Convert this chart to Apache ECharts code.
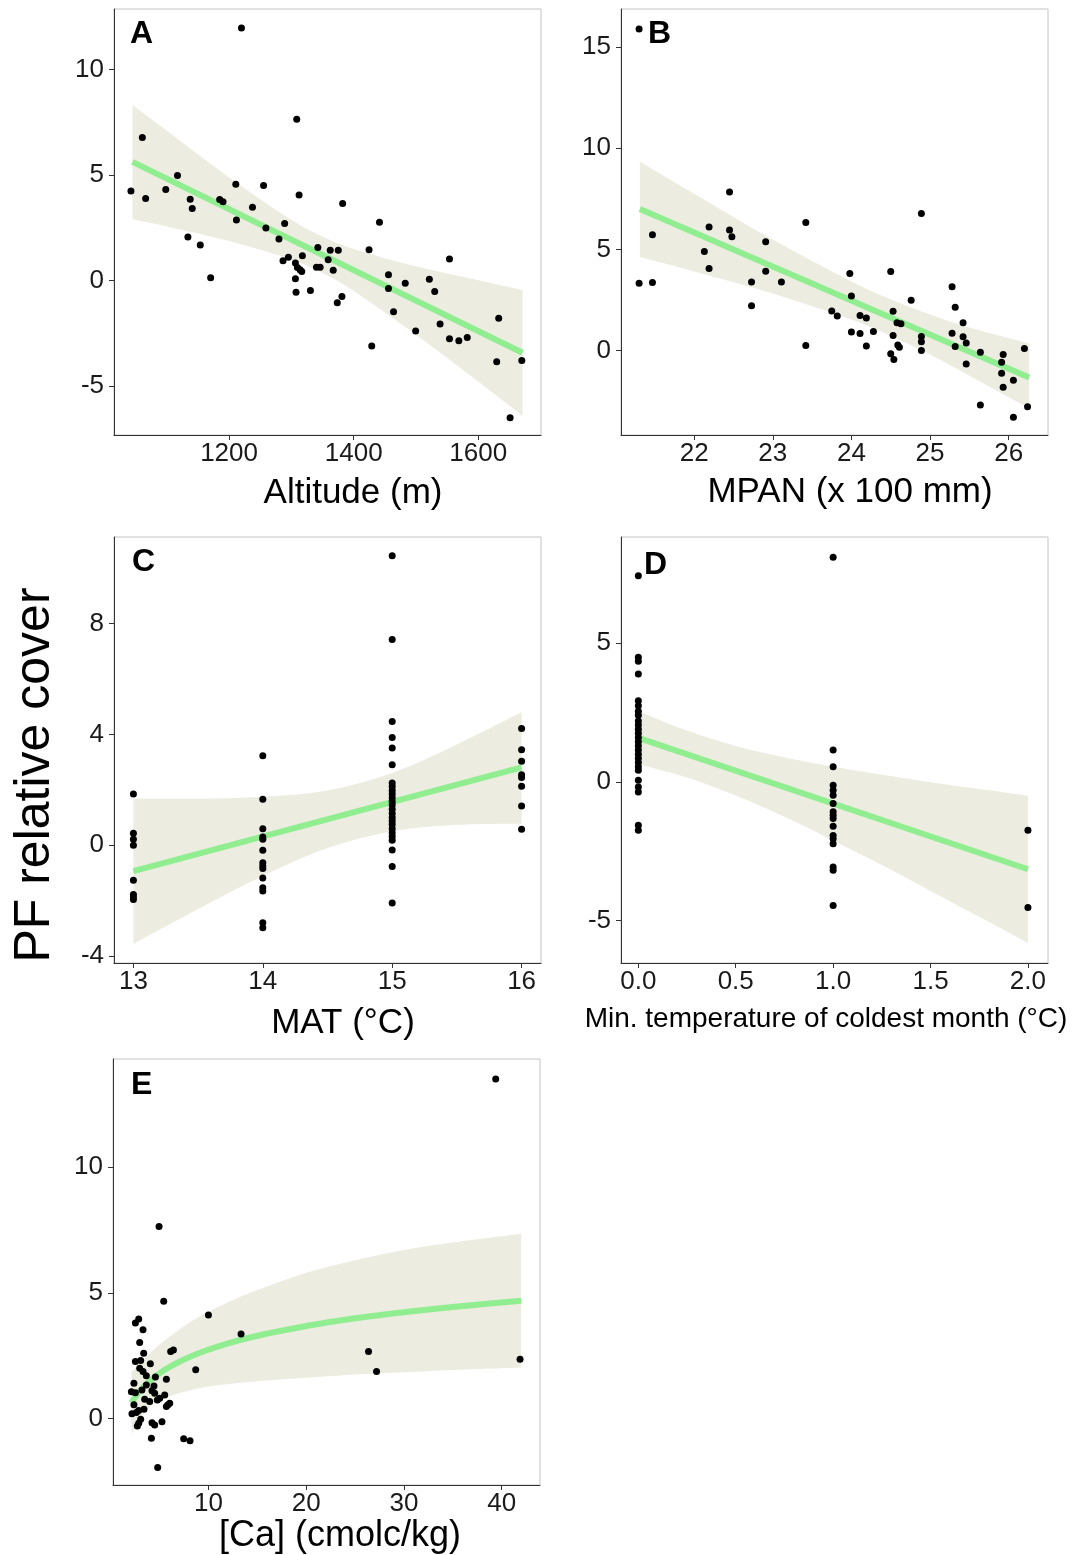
<!DOCTYPE html>
<html><head><meta charset="utf-8">
<script src="https://cdn.jsdelivr.net/npm/echarts@6/dist/echarts.min.js"></script>
<style>html,body{margin:0;padding:0;background:#fff}#c{width:1081px;height:1555px}</style>
</head><body><div id="c"></div>
<script>
// ---------- Panel A: Altitude ----------
const altX = [1042.5,1060.8,1066.1,1098.4,1117.2,1133.9,1137.6,1140.9,1153.8,1170.4,1184.9,1190.3,1210.8,1211.8,1219.9,1237.6,1255.4,1259.1,1280.1,1286.6,1289.2,1295.2,1306.5,1306.5,1307.5,1308.6,1309.7,1312.4,1314.0,1316.7,1317.7,1330.6,1340.3,1342.5,1346.2,1359.1,1362.4,1367.2,1373.7,1375.3,1381.2,1382.3,1424.7,1429.0,1441.4,1455.9,1455.9,1464.0,1482.8,1499.5,1521.5,1530.1,1538.7,1553.8,1553.8,1568.8,1582.3,1629.6,1632.8,1651.1,1669.9];
const altY = [4.24,6.78,3.89,4.32,4.98,2.06,3.86,3.41,1.68,0.13,3.84,3.73,4.56,2.87,11.98,3.48,4.51,2.49,1.97,0.94,2.70,1.10,0.83,0.08,-0.56,7.65,0.62,4.06,0.51,0.43,1.17,-0.48,0.63,1.56,0.63,0.98,1.44,0.49,-1.05,1.44,-0.76,3.65,1.46,-3.11,2.76,0.27,-0.38,-1.48,-0.13,-2.40,0.06,-0.52,-2.06,-2.76,1.02,-2.86,-2.71,-3.86,-1.79,-6.51,-3.79];
const altFitX = [1045, 1671];
const altFitY = [5.63, -3.43];
const altBandX = [1045,1100,1200,1300,1350,1400,1500,1600,1671];
const altBandUp = [8.32,7.10,4.89,2.88,2.09,1.50,0.67,0.01,-0.46];
const altBandLo = [2.90,2.56,1.87,1.00,0.35,-0.50,-2.57,-4.79,-6.42];
const altTicksX = [1200,1400,1600];
const altTicksY = [-5,0,5,10];

// ---------- Panel B: MPAN ----------
const mpanX = [21.30,21.30,21.47,21.47,22.13,22.19,22.19,22.45,22.45,22.48,22.73,22.73,22.91,22.91,23.11,23.42,23.42,23.75,23.82,23.98,24.00,24.00,24.11,24.11,24.19,24.19,24.28,24.50,24.50,24.53,24.53,24.54,24.58,24.59,24.61,24.63,24.76,24.89,24.89,24.89,24.89,25.28,25.28,25.32,25.32,25.42,25.42,25.46,25.46,25.64,25.64,25.91,25.91,25.93,25.93,26.06,26.06,26.20,26.24];
const mpanY = [15.88,3.33,5.72,3.36,4.89,6.10,4.05,7.83,5.95,5.62,3.39,2.21,5.37,3.92,3.39,6.33,0.25,1.96,1.71,3.81,2.70,0.92,1.73,0.84,1.61,0.23,0.94,3.90,-0.16,1.94,0.74,-0.44,1.37,0.28,0.16,1.33,2.49,6.77,0.69,0.44,0.00,3.15,0.86,2.14,0.20,1.37,0.68,0.38,-0.66,-0.08,-2.69,-0.58,-1.12,-0.20,-1.81,-1.47,-3.29,0.10,-2.77];
const mpanFitX = [21.31, 26.26];
const mpanFitY = [6.99, -1.33];
const mpanBandX = [21.31,22,23,24,24.5,25,25.5,26.26];
const mpanBandUp = [9.33,7.75,5.48,3.41,2.53,1.78,1.14,0.35];
const mpanBandLo = [4.62,3.91,2.82,1.53,0.73,-0.20,-1.24,-2.85];
const mpanTicksX = [22,23,24,25,26];
const mpanTicksY = [0,5,10,15];

// ---------- Panel C: MAT ----------
const matX = [13,13,13,13,13,13,13,13,
  14,14,14,14,14,14,14,14,14,14,14,14,14,14,
  15,15,15,15,15,15,15,15,15,15,15,15,15,15,15,15,15,15,15,15,15,15,15,15,15,
  16,16,16,16,16,16,16,16];
const matY = [1.85,0.43,0.22,0.00,-1.26,-1.78,-1.87,-1.96,
  3.23,1.66,0.60,0.30,0.22,-0.18,-0.63,-0.75,-0.84,-1.18,-1.53,-1.65,-2.80,-2.98,
  10.45,7.43,4.47,3.89,3.51,2.91,2.25,2.12,1.98,1.85,1.72,1.58,1.45,1.30,1.15,1.00,0.88,0.75,0.60,0.45,0.32,0.18,-0.17,-0.77,-2.08,
  4.22,3.45,3.03,2.55,2.45,2.13,1.42,0.58];
const matFitX = [13, 16];
const matFitY = [-0.93, 2.81];
const matBandX = [13,13.5,14,14.5,15,15.5,16];
const matBandUp = [1.69,1.68,1.75,1.98,2.61,3.64,4.80];
const matBandLo = [-3.56,-2.30,-1.11,-0.10,0.51,0.74,0.78];
const matTicksX = [13,14,15,16];
const matTicksY = [-4,0,4,8];

// ---------- Panel D: Min. temperature of coldest month ----------
const tminX = [0,0,0,0,0,0,0,0,0,0,0,0,0,0,0,0,0,0,0,0,0,0,0,0,0,0,
  1,1,1,1,1,1,1,1,1,1,1,1,1,1,1,1,1,
  2,2];
const tminY = [7.43,4.49,4.35,3.89,2.93,2.75,2.55,2.40,2.20,2.05,1.90,1.75,1.60,1.45,1.30,1.15,1.00,0.85,0.70,0.55,0.42,0.06,-0.18,-0.36,-1.56,-1.74,
  8.10,1.15,0.55,-0.12,-0.30,-0.48,-0.78,-1.08,-1.20,-1.32,-1.60,-1.93,-2.05,-2.23,-3.07,-3.19,-4.46,
  -1.74,-4.53];
const tminFitX = [0, 2];
const tminFitY = [1.59, -3.15];
const tminBandX = [0,0.25,0.5,0.75,1,1.25,1.5,1.75,2];
const tminBandUp = [2.55,1.85,1.29,0.88,0.55,0.26,-0.01,-0.26,-0.50];
const tminBandLo = [0.64,0.16,-0.49,-1.26,-2.11,-3.00,-3.93,-4.86,-5.80];
const tminTicksX = [0,0.5,1,1.5,2];
const tminTicksY = [-5,0,5];

// ---------- Panel E: [Ca] ----------
const caX = [2.87,2.53,3.31,2.97,3.38,6.14,6.42,2.53,3.07,4.06,2.97,3.31,3.65,4.58,5.70,2.38,3.65,4.43,2.12,2.53,3.20,4.23,4.50,5.53,3.48,3.99,4.78,5.02,2.38,5.86,6.04,5.70,2.87,3.41,2.18,2.63,3.07,2.87,2.73,4.23,4.50,5.25,4.17,
  39.39,4.95,5.43,10.0,13.34,26.38,27.20,41.88,8.70,7.47,8.12,4.81];
const caY = [3.96,3.80,3.53,3.03,2.60,2.67,2.73,2.27,2.31,2.18,2.00,1.87,1.70,1.65,1.57,1.41,1.34,1.30,1.07,1.03,1.14,1.11,1.01,0.94,0.77,0.68,0.74,0.81,0.55,0.55,0.61,0.48,0.32,0.37,0.19,0.24,-0.03,-0.18,-0.29,-0.16,-0.25,-0.12,-0.78,
  13.50,7.64,4.67,4.12,3.36,2.67,1.87,2.36,1.94,-0.80,-0.88,-1.94];
const caFitX = [2.12,3,4,5,6,8,10,13,16,20,25,30,35,42];
const caFitY = [0.63,1.11,1.50,1.80,2.05,2.44,2.74,3.10,3.38,3.68,3.99,4.23,4.44,4.69];
const caBandUp = [1.85,2.20,2.60,2.95,3.25,3.80,4.25,4.80,5.25,5.80,6.30,6.70,7.00,7.35];
const caBandLo = [-0.62,0.05,0.45,0.72,0.90,1.12,1.28,1.42,1.52,1.62,1.75,1.84,1.93,2.03];
const caTicksX = [10,20,30,40];
const caTicksY = [0,5,10];

// ---------- styling ----------
const FONT = '"Liberation Sans", Arial, Helvetica, sans-serif';
const BAND = '#ECECE0';
const FIT = '#90EE90';
const AXC = '#333333';
const LBL = '#1a1a1a';

const grids = [
  {left:114, top:9, width:427, height:426},
  {left:621, top:9, width:427, height:426},
  {left:114, top:537, width:427, height:426},
  {left:621, top:537, width:427, height:426},
  {left:113, top:1059, width:427, height:426}
].map(g => Object.assign(g, {show:true, borderColor:'#c4c4c4', borderWidth:1, backgroundColor:'#fff', containLabel:false}));

function xAx(gi, min, max, ticks, name, opts) {
  opts = opts || {};
  return {
    type:'value', gridIndex:gi, min:min, max:max,
    name:name, nameLocation:'middle', nameGap:opts.gap,
    nameTextStyle:{fontFamily:FONT, fontSize:opts.fs || 35, color:'#000', padding:opts.pad || [0,0,0,0]},
    axisLine:{show:true, onZero:false, lineStyle:{color:AXC, width:1}},
    axisTick:{show:true, length:5, lineStyle:{color:AXC}, customValues:ticks},
    axisLabel:{show:true, customValues:ticks, fontFamily:FONT, fontSize:26, color:LBL, margin:6,
      formatter: opts.fmt || (v => String(v))},
    splitLine:{show:false}
  };
}
function yAx(gi, min, max, ticks) {
  return {
    type:'value', gridIndex:gi, min:min, max:max,
    axisLine:{show:true, onZero:false, lineStyle:{color:AXC, width:1}},
    axisTick:{show:true, length:5, lineStyle:{color:AXC}, customValues:ticks},
    axisLabel:{show:true, customValues:ticks, fontFamily:FONT, fontSize:26, color:LBL, margin:10,
      formatter: v => String(v)},
    splitLine:{show:false}
  };
}

// smooth open curve through screen points (Catmull-Rom -> cubic Bezier path commands)
function curveCmds(p) {
  let d = '';
  for (let i = 0; i < p.length - 1; i++) {
    const p0 = p[Math.max(i - 1, 0)], p1 = p[i], p2 = p[i + 1], p3 = p[Math.min(i + 2, p.length - 1)];
    const c1 = [p1[0] + (p2[0] - p0[0]) / 6, p1[1] + (p2[1] - p0[1]) / 6];
    const c2 = [p2[0] - (p3[0] - p1[0]) / 6, p2[1] - (p3[1] - p1[1]) / 6];
    d += ' C' + c1[0] + ',' + c1[1] + ' ' + c2[0] + ',' + c2[1] + ' ' + p2[0] + ',' + p2[1];
  }
  return d;
}
function bandSeries(gi, xs, up, lo) {
  return {
    type:'custom', xAxisIndex:gi, yAxisIndex:gi, silent:true, z:1, clip:true,
    data:[0],
    renderItem: function(params, api) {
      const top = xs.map((x, i) => api.coord([x, up[i]]));
      const bot = xs.map((x, i) => api.coord([x, lo[i]])).reverse();
      const d = 'M' + top[0][0] + ',' + top[0][1] + curveCmds(top) +
        ' L' + bot[0][0] + ',' + bot[0][1] + curveCmds(bot) + ' Z';
      return {type:'path', shape:{pathData:d}, style:{fill:BAND}};
    }
  };
}
function fitSeries(gi, xs, ys) {
  return {
    type:'line', xAxisIndex:gi, yAxisIndex:gi, silent:true, z:2, smooth:true,
    symbol:'none', lineStyle:{color:FIT, width:6, cap:'butt'},
    data: xs.map((x, i) => [x, ys[i]])
  };
}
function pointSeries(gi, xs, ys) {
  return {
    type:'scatter', xAxisIndex:gi, yAxisIndex:gi, z:3, symbolSize:7,
    itemStyle:{color:'#000', opacity:1},
    data: xs.map((x, i) => [x, ys[i]])
  };
}

const option = {
  animation:false,
  backgroundColor:'#fff',
  grid: grids,
  xAxis: [
    xAx(0, 1015.3, 1700.7, altTicksX, 'Altitude (m)', {gap:41, pad:[0,0,0,51]}),
    xAx(1, 21.07, 26.50, mpanTicksX, 'MPAN (x 100 mm)', {gap:40, pad:[0,0,0,31]}),
    xAx(2, 12.85, 16.15, matTicksX, 'MAT (°C)', {gap:43, pad:[0,0,0,31]}),
    xAx(3, -0.089, 2.103, tminTicksX, 'Min. temperature of coldest month (°C)', {gap:42, fs:28, pad:[0,17,0,0], fmt: v => v.toFixed(1)}),
    xAx(4, 0.24, 43.92, caTicksX, '[Ca] (cmolc/kg)', {gap:33, fs:36, pad:[0,0,0,27]})
  ],
  yAxis: [
    yAx(0, -7.33, 12.88, altTicksY),
    yAx(1, -4.17, 16.87, mpanTicksY),
    yAx(2, -4.25, 11.13, matTicksY),
    yAx(3, -6.53, 8.83, tminTicksY),
    yAx(4, -2.64, 14.30, caTicksY)
  ],
  series: [
    bandSeries(0, altBandX, altBandUp, altBandLo), fitSeries(0, altFitX, altFitY), pointSeries(0, altX, altY),
    bandSeries(1, mpanBandX, mpanBandUp, mpanBandLo), fitSeries(1, mpanFitX, mpanFitY), pointSeries(1, mpanX, mpanY),
    bandSeries(2, matBandX, matBandUp, matBandLo), fitSeries(2, matFitX, matFitY), pointSeries(2, matX, matY),
    bandSeries(3, tminBandX, tminBandUp, tminBandLo), fitSeries(3, tminFitX, tminFitY), pointSeries(3, tminX, tminY),
    bandSeries(4, caFitX, caBandUp, caBandLo), fitSeries(4, caFitX, caFitY), pointSeries(4, caX, caY)
  ],
  graphic: [
    {type:'text', x:130, y:34, z:10, style:{text:'A', font:'bold 32px ' + FONT, fill:'#000', textVerticalAlign:'middle'}},
    {type:'text', x:648, y:34, z:10, style:{text:'B', font:'bold 32px ' + FONT, fill:'#000', textVerticalAlign:'middle'}},
    {type:'text', x:132, y:562, z:10, style:{text:'C', font:'bold 32px ' + FONT, fill:'#000', textVerticalAlign:'middle'}},
    {type:'text', x:644, y:565, z:10, style:{text:'D', font:'bold 32px ' + FONT, fill:'#000', textVerticalAlign:'middle'}},
    {type:'text', x:131, y:1085, z:10, style:{text:'E', font:'bold 32px ' + FONT, fill:'#000', textVerticalAlign:'middle'}},
    {type:'text', x:35, y:775, rotation:Math.PI/2, z:10,
      style:{text:'PF relative cover', font:'50px ' + FONT, fill:'#000', textAlign:'center', textVerticalAlign:'middle'}}
  ]
};

const chart = echarts.init(document.getElementById('c'), null, {renderer:'canvas'});
chart.setOption(option);
</script></body></html>
